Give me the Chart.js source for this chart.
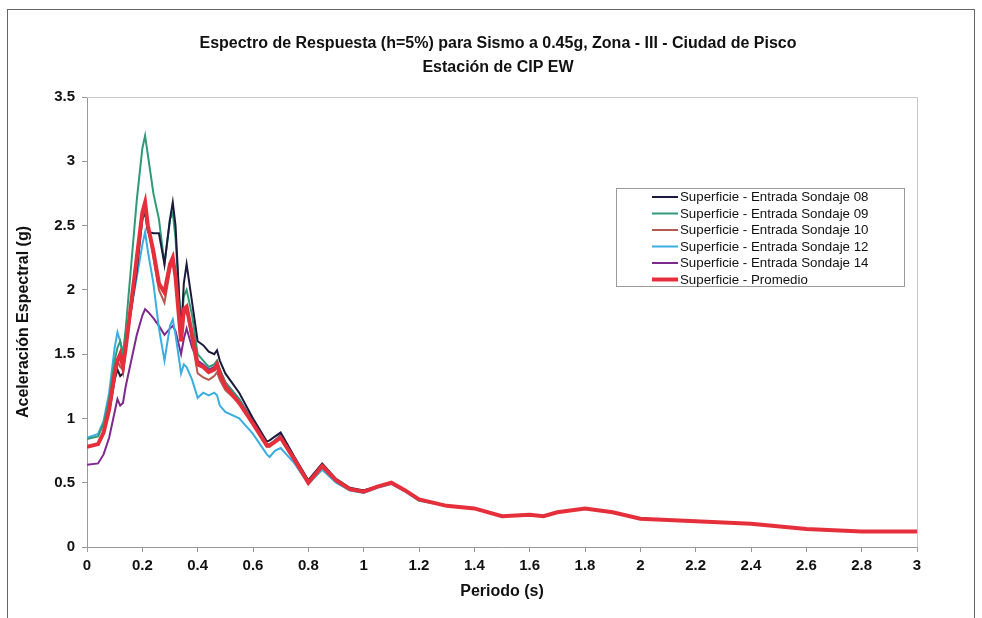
<!DOCTYPE html>
<html>
<head>
<meta charset="utf-8">
<script src="https://cdn.jsdelivr.net/npm/chart.js@4"></script>
<style>
    body { margin: 0; background: #fff; }
    #wrap { position: relative; width: 982px; height: 618px; }
    #frame { position: absolute; left: 7px; top: 9px; width: 966px; height: 640px; border: 1px solid #666; }
    canvas { position: absolute; left: 0; top: 0; }
</style>
</head>
<body>
<div id="wrap">
    <div id="frame"></div>
    <canvas id="chart" width="982" height="618"></canvas>
</div>
<script>
// Periodo (s)
const periodo = [0, 0.04, 0.06, 0.08, 0.10, 0.11, 0.12, 0.13, 0.14, 0.16, 0.18, 0.20, 0.21, 0.22, 0.24, 0.26, 0.28, 0.30, 0.31, 0.32, 0.34, 0.35, 0.36, 0.38, 0.40, 0.42, 0.44, 0.46, 0.47, 0.48, 0.50, 0.55, 0.60, 0.65, 0.66, 0.68, 0.70, 0.75, 0.80, 0.85, 0.90, 0.95, 1.00, 1.05, 1.10, 1.15, 1.20, 1.30, 1.40, 1.50, 1.60, 1.65, 1.70, 1.80, 1.90, 2.00, 2.20, 2.40, 2.60, 2.80, 3.00];

// aceleracion espectral (g) por sondaje
const sondaje08 = [0.78, 0.80, 0.90, 1.05, 1.30, 1.38, 1.33, 1.35, 1.55, 1.85, 2.15, 2.55, 2.60, 2.45, 2.44, 2.44, 2.20, 2.55, 2.68, 2.50, 1.65, 2.05, 2.20, 1.90, 1.60, 1.57, 1.52, 1.50, 1.53, 1.45, 1.35, 1.20, 1.00, 0.82, 0.83, 0.86, 0.89, 0.70, 0.52, 0.65, 0.53, 0.46, 0.44, 0.47, 0.50, 0.44, 0.37, 0.32, 0.30, 0.24, 0.25, 0.24, 0.27, 0.30, 0.27, 0.22, 0.20, 0.18, 0.14, 0.12, 0.12];
const sondaje09 = [0.84, 0.86, 0.96, 1.15, 1.45, 1.55, 1.60, 1.50, 1.70, 2.20, 2.70, 3.10, 3.20, 3.05, 2.75, 2.55, 2.20, 2.55, 2.60, 2.40, 1.70, 1.95, 2.00, 1.80, 1.50, 1.45, 1.40, 1.42, 1.45, 1.38, 1.28, 1.15, 0.97, 0.80, 0.80, 0.83, 0.86, 0.68, 0.51, 0.63, 0.52, 0.45, 0.43, 0.47, 0.50, 0.44, 0.37, 0.32, 0.30, 0.24, 0.25, 0.24, 0.27, 0.30, 0.27, 0.22, 0.20, 0.18, 0.14, 0.12, 0.12];
const sondaje10 = [0.78, 0.80, 0.90, 1.08, 1.35, 1.45, 1.40, 1.38, 1.55, 1.90, 2.25, 2.55, 2.65, 2.50, 2.25, 2.00, 1.90, 2.15, 2.25, 2.10, 1.60, 1.80, 1.85, 1.60, 1.35, 1.32, 1.30, 1.33, 1.36, 1.30, 1.22, 1.12, 0.96, 0.78, 0.78, 0.82, 0.86, 0.68, 0.50, 0.63, 0.52, 0.45, 0.43, 0.47, 0.50, 0.44, 0.37, 0.32, 0.30, 0.24, 0.25, 0.24, 0.27, 0.30, 0.27, 0.22, 0.20, 0.18, 0.14, 0.12, 0.12];
const sondaje12 = [0.85, 0.88, 0.98, 1.20, 1.55, 1.67, 1.60, 1.50, 1.60, 1.85, 2.10, 2.35, 2.45, 2.30, 2.05, 1.70, 1.45, 1.72, 1.77, 1.65, 1.35, 1.42, 1.40, 1.30, 1.16, 1.20, 1.18, 1.20, 1.18, 1.10, 1.05, 1.00, 0.88, 0.72, 0.70, 0.75, 0.77, 0.65, 0.49, 0.60, 0.50, 0.44, 0.42, 0.46, 0.49, 0.43, 0.36, 0.32, 0.30, 0.24, 0.25, 0.24, 0.27, 0.30, 0.27, 0.22, 0.20, 0.18, 0.14, 0.12, 0.12];
const sondaje14 = [0.64, 0.65, 0.72, 0.85, 1.05, 1.15, 1.10, 1.12, 1.25, 1.45, 1.65, 1.80, 1.85, 1.83, 1.78, 1.72, 1.65, 1.70, 1.72, 1.68, 1.50, 1.62, 1.70, 1.55, 1.45, 1.42, 1.38, 1.40, 1.43, 1.38, 1.28, 1.15, 0.98, 0.80, 0.79, 0.83, 0.87, 0.69, 0.51, 0.64, 0.52, 0.45, 0.44, 0.47, 0.50, 0.44, 0.37, 0.32, 0.30, 0.24, 0.25, 0.24, 0.27, 0.30, 0.27, 0.22, 0.20, 0.18, 0.14, 0.12, 0.12];
const promedio  = [0.78, 0.80, 0.89, 1.07, 1.35, 1.45, 1.50, 1.40, 1.55, 1.90, 2.25, 2.60, 2.68, 2.50, 2.30, 2.05, 1.98, 2.20, 2.25, 2.10, 1.60, 1.85, 1.87, 1.65, 1.42, 1.40, 1.36, 1.38, 1.42, 1.35, 1.25, 1.12, 0.96, 0.79, 0.79, 0.82, 0.85, 0.68, 0.50, 0.63, 0.52, 0.45, 0.43, 0.47, 0.50, 0.44, 0.37, 0.32, 0.30, 0.24, 0.25, 0.24, 0.27, 0.30, 0.27, 0.22, 0.20, 0.18, 0.14, 0.12, 0.12];

const nombres = [
    "Superficie - Entrada Sondaje 08",
    "Superficie - Entrada Sondaje 09",
    "Superficie - Entrada Sondaje 10",
    "Superficie - Entrada Sondaje 12",
    "Superficie - Entrada Sondaje 14",
    "Superficie - Promedio"
];
const series = [sondaje08, sondaje09, sondaje10, sondaje12, sondaje14, promedio];
const colores = ["#1c1a3c", "#2f9a78", "#b55a4e", "#3aaee2", "#7d2a8c", "#e5303c"];
const grosor = [2, 2, 2, 2, 2, 4];

const FONT = "'Liberation Sans', Arial, sans-serif";

function toPts(arr) {
    return arr.map((v, i) => ({ x: periodo[i], y: v }));
}

// legend box drawn inside the plot
const cajaLeyenda = {
    id: "cajaLeyenda",
    afterDraw(chart) {
        const ctx = chart.ctx;
        ctx.save();
        ctx.fillStyle = "#fff";
        ctx.fillRect(617, 189, 288, 98);
        ctx.strokeStyle = "#9a9a9a";
        ctx.lineWidth = 1;
        ctx.strokeRect(616.5, 188.5, 288, 98);
        ctx.font = "13.3px " + FONT;
        ctx.textBaseline = "middle";
        chart.data.datasets.forEach((ds, i) => {
            const y = 197 + i * 16.5;
            ctx.strokeStyle = ds.borderColor;
            ctx.lineWidth = ds.borderWidth;
            ctx.beginPath();
            ctx.moveTo(652, y);
            ctx.lineTo(678, y);
            ctx.stroke();
            ctx.fillStyle = "#111";
            ctx.fillText(ds.label, 680, y + 0.5);
        });
        ctx.restore();
    }
};

// light border around plot area
const bordePlot = {
    id: "bordePlot",
    beforeDatasetsDraw(chart) {
        const a = chart.chartArea;
        const ctx = chart.ctx;
        ctx.save();
        ctx.strokeStyle = "#c8c8c8";
        ctx.lineWidth = 1;
        ctx.beginPath();
        ctx.moveTo(a.left, a.top + 0.5);
        ctx.lineTo(a.right + 0.5, a.top + 0.5);
        ctx.lineTo(a.right + 0.5, a.bottom);
        ctx.stroke();
        ctx.restore();
    }
};

const chart = new Chart(document.getElementById("chart"), {
    type: "line",
    data: {
        datasets: series.map((s, i) => ({
            label: nombres[i],
            data: toPts(s),
            borderColor: colores[i],
            backgroundColor: colores[i],
            borderWidth: grosor[i],
            pointRadius: 0,
            tension: 0,
            fill: false,
            order: i === 5 ? 0 : i + 1
        }))
    },
    options: {
        responsive: false,
        animation: false,
        layout: { padding: { left: 14, right: 0, top: 0, bottom: 0 } },
        plugins: {
            legend: { display: false },
            tooltip: { enabled: false },
            title: {
                display: true,
                text: [
                    "Espectro de Respuesta (h=5%) para Sismo a 0.45g, Zona - III - Ciudad de Pisco",
                    "Estación de CIP EW"
                ],
                color: "#111",
                font: { family: FONT, size: 16, weight: "bold", lineHeight: 1.5 },
                padding: { top: 32, bottom: 17 }
            }
        },
        scales: {
            x: {
                type: "linear",
                min: 0,
                max: 3,
                ticks: {
                    stepSize: 0.2,
                    color: "#111",
                    font: { family: FONT, size: 15, weight: "bold" },
                    padding: 5,
                    maxRotation: 0,
                    callback: v => String(parseFloat(v.toFixed(1)))
                },
                grid: { drawOnChartArea: false, tickLength: 5, color: "#999" },
                border: { color: "#999" },
                title: {
                    display: true,
                    text: "Periodo (s)",
                    color: "#111",
                    font: { family: FONT, size: 16, weight: "bold" },
                    padding: { top: 0, bottom: 17 }
                },
                afterFit(scale) { scale.height = 71; }
            },
            y: {
                min: 0,
                max: 3.5,
                ticks: {
                    stepSize: 0.5,
                    color: "#111",
                    font: { family: FONT, size: 15, weight: "bold" },
                    padding: 7,
                    callback: v => String(parseFloat(v.toFixed(1)))
                },
                grid: { drawOnChartArea: false, tickLength: 5, color: "#999" },
                border: { color: "#999" },
                title: {
                    display: true,
                    text: "Aceleración Espectral (g)",
                    color: "#111",
                    font: { family: FONT, size: 16, weight: "bold" },
                    padding: { top: 0, bottom: 0 }
                },
                afterFit(scale) { scale.width = 73; }
            },
            // empty right axis, only reserves the margin right of the plot
            yDer: {
                position: "right",
                min: 0,
                max: 3.5,
                ticks: { display: false },
                grid: { display: false },
                border: { display: false },
                afterFit(scale) { scale.width = 65; }
            }
        }
    },
    plugins: [bordePlot, cajaLeyenda]
});
</script>
</body>
</html>
